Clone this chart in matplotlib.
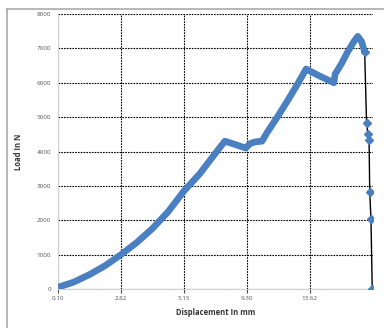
import matplotlib.pyplot as plt
from matplotlib.lines import Line2D

# category positions (one unit = one labelled tick) and load in N
pos = [0, 0.25, 0.5, 0.75, 1.0, 1.25, 1.5, 1.75, 2.0, 2.25, 2.5, 2.65,
       2.82, 2.98, 3.05, 3.13, 3.24, 3.32, 3.5, 3.65, 3.8, 3.94, 4.15,
       4.38, 4.40, 4.45, 4.5, 4.6, 4.7, 4.76, 4.82, 4.87]
load = [50, 200, 420, 680, 1000, 1350, 1760, 2250, 2850, 3350, 3950, 4300,
        4200, 4100, 4230, 4280, 4300, 4550, 5050, 5490, 5950, 6400, 6200,
        6000, 6250, 6400, 6550, 6900, 7200, 7350, 7200, 6900]

# sparse points after failure
drop_pos = [4.87, 4.90, 4.92, 4.94, 4.95, 4.97, 4.99]
drop_load = [6900, 4830, 4510, 4330, 2820, 2030, 0]

tick_pos = [0, 1, 2, 3, 4]
tick_labels = ["0.10", "2.82", "5.15", "9.30", "13.62"]

plt.rcParams['font.family'] = ['Open Sans', 'DejaVu Sans']
blue = "#4a7fc1"

fig = plt.figure(figsize=(3.84, 3.29), dpi=100)
ax = fig.add_axes([0.151, 0.1216, 0.82, 0.8358])

ax.plot(drop_pos, drop_load, color="black", linewidth=1.0, marker="D",
        markersize=3.8, markerfacecolor=blue, markeredgecolor=blue, zorder=3)
ax.plot(pos, load, color=blue, linewidth=4.8, solid_capstyle="round",
        solid_joinstyle="round", zorder=4)

ax.set_xlim(0, 5.0)
ax.set_ylim(0, 8000)
ax.set_yticks(range(0, 8001, 1000))
ax.set_xticks(tick_pos)
ax.set_xticklabels(tick_labels)

ax.grid(True, color="black", linestyle=(0, (1.5, 1)), linewidth=0.8)
for s in ["top", "right"]:
    ax.spines[s].set_visible(False)
ax.spines["left"].set_color("#d0d0d0")
ax.spines["bottom"].set_color("#d0d0d0")
ax.tick_params(axis="y", length=0, labelsize=4.5, labelcolor="#555555", pad=5)
ax.tick_params(axis="x", length=3, width=0.8, color="#444444", labelsize=4.5,
               labelcolor="#555555", pad=2)

ax.set_xlabel("Displacement In mm", fontsize=5.5, fontweight="bold", color="#333333", labelpad=5)
ax.set_ylabel("Load In N", fontsize=5.5, fontweight="bold", color="#333333", labelpad=10)

# grey frame of the screenshot
fig.add_artist(Line2D([7 / 384, 7 / 384], [0.005, 1 - 9 / 329], color="#aaaaaa", linewidth=1.2))
fig.add_artist(Line2D([7 / 384, 1.0], [1 - 9 / 329, 1 - 9 / 329], color="#aaaaaa", linewidth=1.2))

fig.savefig("out.png", dpi=100)
